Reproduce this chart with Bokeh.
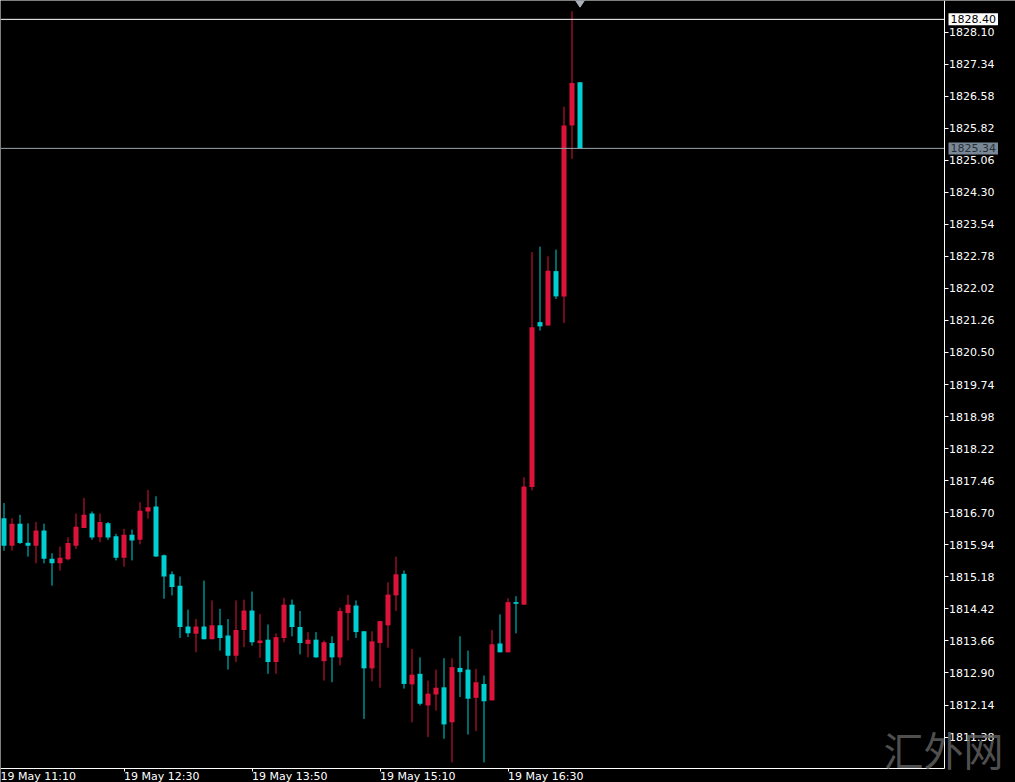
import pandas as pd
from bokeh.plotting import figure
from bokeh.models import (FixedTicker, PrintfTickFormatter, DatetimeTickFormatter,
                          Label, ColumnDataSource, Range1d)
from bokeh.embed import file_html
from bokeh.resources import INLINE

# ---------------- data (XAUUSD, M5, 19 May) ----------------
first_bar = "2021-05-19 11:15"
opens = [1816.57, 1815.92, 1816.44, 1815.99, 1815.92, 1816.28, 1815.61, 1815.50, 1815.60, 1815.92,
         1816.34, 1816.68, 1816.12, 1816.45, 1816.14, 1815.63, 1816.18, 1816.06, 1816.73, 1816.85,
         1815.69, 1815.24, 1814.97, 1814.00, 1813.83, 1814.00, 1813.70, 1814.03, 1813.79, 1813.31,
         1813.92, 1814.38, 1813.61, 1813.69, 1813.16, 1813.73, 1814.52, 1813.99, 1813.59, 1813.69,
         1813.18, 1813.61, 1813.27, 1814.32, 1814.50, 1813.89, 1813.01, 1813.61, 1814.03, 1814.74,
         1815.25, 1812.63, 1812.88, 1812.13, 1812.39, 1812.56, 1811.73, 1813.02, 1812.98, 1812.31,
         1812.64, 1812.25, 1813.60, 1813.39, 1814.58, 1814.52, 1817.31, 1821.22, 1821.14, 1822.43,
         1821.83, 1825.88, 1826.91]
highs = [1816.93, 1816.57, 1816.65, 1816.45, 1816.48, 1816.44, 1815.74, 1815.90, 1816.12, 1816.68,
         1817.05, 1816.73, 1816.68, 1816.48, 1816.20, 1816.32, 1816.30, 1816.95, 1817.24, 1817.09,
         1815.71, 1815.31, 1815.19, 1814.40, 1814.18, 1815.09, 1814.62, 1814.42, 1814.18, 1814.62,
         1814.64, 1814.83, 1814.30, 1814.05, 1813.84, 1814.68, 1814.64, 1814.37, 1813.87, 1813.87,
         1813.67, 1813.77, 1814.45, 1814.75, 1814.62, 1813.89, 1813.89, 1814.13, 1815.05, 1815.66,
         1815.33, 1813.47, 1813.27, 1812.72, 1812.98, 1813.25, 1813.25, 1813.77, 1813.43, 1813.00,
         1812.84, 1813.92, 1814.29, 1814.67, 1814.72, 1817.54, 1822.88, 1823.01, 1822.78, 1822.94,
         1826.33, 1828.59, 1826.91]
lows = [1815.80, 1815.80, 1815.96, 1815.66, 1815.50, 1815.50, 1814.97, 1815.33, 1815.57, 1815.84,
        1816.34, 1816.06, 1816.00, 1816.06, 1815.57, 1815.42, 1815.57, 1815.95, 1816.56, 1815.65,
        1814.66, 1814.74, 1813.73, 1813.75, 1813.39, 1813.70, 1813.70, 1813.43, 1812.98, 1813.16,
        1813.51, 1813.55, 1813.26, 1812.88, 1812.88, 1813.63, 1813.77, 1813.34, 1813.27, 1813.26,
        1812.72, 1812.68, 1813.08, 1813.67, 1813.73, 1811.81, 1812.70, 1812.55, 1813.50, 1814.37,
        1812.53, 1811.73, 1812.13, 1811.38, 1812.01, 1811.34, 1810.78, 1812.33, 1811.44, 1811.52,
        1810.78, 1812.25, 1813.39, 1813.39, 1813.84, 1814.52, 1817.23, 1821.02, 1821.14, 1821.77,
        1821.20, 1825.09, 1825.34]
closes = [1815.92, 1816.44, 1815.98, 1815.92, 1816.28, 1815.61, 1815.50, 1815.63, 1815.98, 1816.37,
          1816.65, 1816.11, 1816.48, 1816.11, 1815.63, 1816.18, 1816.04, 1816.75, 1816.83, 1815.66,
          1815.19, 1814.94, 1813.99, 1813.84, 1814.00, 1813.70, 1814.03, 1813.73, 1813.31, 1813.92,
          1814.38, 1813.63, 1813.67, 1813.16, 1813.75, 1814.52, 1813.99, 1813.61, 1813.69, 1813.27,
          1813.63, 1813.27, 1814.37, 1814.52, 1813.87, 1813.01, 1813.65, 1814.13, 1814.76, 1815.24,
          1812.64, 1812.86, 1812.17, 1812.41, 1812.55, 1811.68, 1813.04, 1812.92, 1812.29, 1812.68,
          1812.23, 1813.58, 1813.39, 1814.58, 1814.54, 1817.32, 1821.10, 1821.12, 1822.44, 1821.83,
          1825.88, 1826.89, 1825.34]

price_ticks = [1811.38, 1812.14, 1812.90, 1813.66, 1814.42, 1815.18, 1815.94, 1816.70, 1817.46,
               1818.22, 1818.98, 1819.74, 1820.50, 1821.26, 1822.02, 1822.78, 1823.54, 1824.30,
               1825.06, 1825.82, 1826.58, 1827.34, 1828.10]
time_ticks = ["2021-05-19 12:30", "2021-05-19 13:50", "2021-05-19 15:10", "2021-05-19 16:30"]
first_time_label = "19 May 11:10"
hline_price = 1828.40
bid_price = 1825.34
arrow_price = 1828.89
watermark = "汇外网"

# ---------------- layout / styling ----------------
UP = "#DC143C"
DOWN = "#00CED1"
FONT = "DejaVu Sans"
W, H = 1015, 782
AXIS_X_PX = 943.5          # price-scale separator
AXIS_Y_PX = 767.5          # time-scale separator
PX_PER_PRICE = 42.17
TOP_PRICE = 1828.847       # price at the top pixel row
LABEL_MID_PX = 775.5       # vertical centre of the time labels

times = pd.date_range(first_bar, periods=len(opens), freq="5min")
colors = [UP if c >= o else DOWN for o, c in zip(opens, closes)]
src = ColumnDataSource(dict(
    t=times, o=opens, h=highs, l=lows, c=closes,
    top=[max(o, c) for o, c in zip(opens, closes)],
    bot=[min(o, c) for o, c in zip(opens, closes)],
    color=colors))

bar_ms = 5 * 60 * 1000
px_ms = bar_ms / 8.0
x_start = times[0] - pd.Timedelta(milliseconds=3.5 * px_ms)
x_end = x_start + pd.Timedelta(milliseconds=W * px_ms)
x_axis_loc = x_start + pd.Timedelta(milliseconds=AXIS_X_PX * px_ms)
y_bottom = TOP_PRICE - H / PX_PER_PRICE
y_axis_loc = TOP_PRICE - AXIS_Y_PX / PX_PER_PRICE


def ms(ts):
    return pd.Timestamp(ts).value / 10**6


p = figure(x_axis_type="datetime", x_range=Range1d(x_start, x_end),
           y_range=Range1d(y_bottom, TOP_PRICE),
           width=W, height=H, output_backend="svg", toolbar_location=None,
           y_axis_location="right", background_fill_color="black", border_fill_color="black",
           min_border=0, outline_line_color=None)
p.grid.visible = False

p.segment(x0="t", y0="l", x1="t", y1="h", color="color", line_width=1, source=src)
p.vbar(x="t", width=bar_ms * 5 / 8.0, top="top", bottom="bot", fill_color="color",
       line_color=None, source=src)

# horizontal price lines (stop at the price scale)
p.segment(x0=[x_start, x_start], y0=[hline_price, bid_price], x1=[x_axis_loc, x_axis_loc],
          y1=[hline_price, bid_price], color=["white", "#9AA4AE"], line_width=1)

p.scatter(x=[times[-1]], y=[arrow_price], marker="diamond", size=17, color="#A9B0B8")

# price axis
ya = p.yaxis[0]
ya.fixed_location = ms(x_axis_loc)
ya.bounds = (y_axis_loc, TOP_PRICE)
ya.ticker = FixedTicker(ticks=price_ticks)
ya.formatter = PrintfTickFormatter(format="%.2f")
ya.axis_line_color = "white"
ya.major_tick_line_color = "white"
ya.major_tick_out = 4
ya.major_tick_in = 0
ya.minor_tick_line_color = None
ya.major_label_standoff = 1
ya.major_label_text_color = "white"
ya.major_label_text_font = FONT
ya.major_label_text_font_size = "11px"

# time axis
xa = p.xaxis[0]
xa.fixed_location = y_axis_loc
xa.bounds = (ms(x_start), ms(x_axis_loc))
xa.ticker = FixedTicker(ticks=[ms(t) for t in time_ticks])
fmt = "%d %b %H:%M"
xa.formatter = DatetimeTickFormatter(minutes=fmt, hourmin=fmt, hours=fmt, days=fmt)
xa.axis_line_color = "white"
xa.major_tick_line_color = "white"
xa.major_tick_out = 3
xa.major_tick_in = 0
xa.minor_tick_line_color = None
xa.major_label_orientation = -0.0001
xa.major_label_standoff = int(LABEL_MID_PX - AXIS_Y_PX - 3)
xa.major_label_text_color = "white"
xa.major_label_text_font = FONT
xa.major_label_text_font_size = "11px"

p.add_layout(Label(x=0, y=H - LABEL_MID_PX, x_units="screen", y_units="screen",
                   text=first_time_label, text_color="white", text_font=FONT,
                   text_font_size="11px", text_align="left", text_baseline="middle"))

# price boxes on the scale
p.add_layout(Label(x=948, y=hline_price, x_units="screen", text=f"{hline_price:.2f}",
                   text_color="black", text_font=FONT, text_font_size="11px",
                   text_baseline="middle", background_fill_color="white", padding=2))
p.add_layout(Label(x=948, y=bid_price, x_units="screen", text=f"{bid_price:.2f}",
                   text_color="#26303A", text_font=FONT, text_font_size="11px",
                   text_baseline="middle", background_fill_color="#7A8896", padding=2))

# watermark
p.add_layout(Label(x=883, y=H - 748.5, x_units="screen", y_units="screen", text=watermark,
                   text_color="#666666", text_alpha=0.8, text_font="Noto Sans CJK SC",
                   text_font_size="40px", text_baseline="middle"))

open("out.html", "w").write(file_html(p, INLINE))
